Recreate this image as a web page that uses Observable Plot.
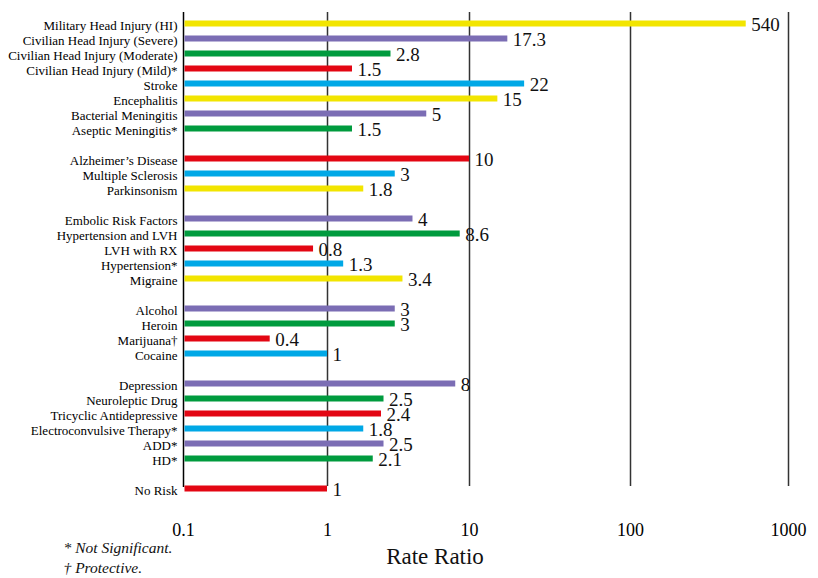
<!DOCTYPE html>
<html>
<head>
<meta charset="utf-8">
<script src="https://cdn.jsdelivr.net/npm/d3@7"></script>
<script src="https://cdn.jsdelivr.net/npm/@observablehq/plot@0.6"></script>
<style>
  html, body { margin: 0; padding: 0; background: #fff; }
  #chart { width: 818px; height: 578px; }
</style>
</head>
<body>
<div id="chart"></div>
<script>
// Risk factors, listed top to bottom
const categories = [
  "Military Head Injury (HI)",
  "Civilian Head Injury (Severe)",
  "Civilian Head Injury (Moderate)",
  "Civilian Head Injury (Mild)*",
  "Stroke",
  "Encephalitis",
  "Bacterial Meningitis",
  "Aseptic Meningitis*",
  "Alzheimer\u2019s Disease",
  "Multiple Sclerosis",
  "Parkinsonism",
  "Embolic Risk Factors",
  "Hypertension and LVH",
  "LVH with RX",
  "Hypertension*",
  "Migraine",
  "Alcohol",
  "Heroin",
  "Marijuana\u2020",
  "Cocaine",
  "Depression",
  "Neuroleptic Drug",
  "Tricyclic Antidepressive",
  "Electroconvulsive Therapy*",
  "ADD*",
  "HD*",
  "No Risk"
];

// Rate ratios
const values = [540, 17.3, 2.8, 1.5, 22, 15, 5, 1.5,
                10, 3, 1.8,
                4, 8.6, 0.8, 1.3, 3.4,
                3, 3, 0.4, 1,
                8, 2.5, 2.4, 1.8, 2.5, 2.1,
                1];

const valueLabels = ["540", "17.3", "2.8", "1.5", "22", "15", "5", "1.5",
                     "10", "3", "1.8",
                     "4", "8.6", "0.8", "1.3", "3.4",
                     "3", "3", "0.4", "1",
                     "8", "2.5", "2.4", "1.8", "2.5", "2.1",
                     "1"];

const YELLOW = "#f2e500", PURPLE = "#7b6db4", GREEN = "#009b3e", RED = "#e30613", BLUE = "#00a8e6";
const barColors = [YELLOW, PURPLE, GREEN, RED, BLUE, YELLOW, PURPLE, GREEN,
                   RED, BLUE, YELLOW,
                   PURPLE, GREEN, RED, BLUE, YELLOW,
                   PURPLE, GREEN, RED, BLUE,
                   PURPLE, GREEN, RED, BLUE, PURPLE, GREEN,
                   RED];

// Number of rows in each group; an empty row separates groups
const groupSizes = [8, 3, 5, 4, 6, 1];

// Axis ticks (decades)
const ticks = [0.1, 1, 10, 100, 1000];
const tickLabels = ["0.1", "1", "10", "100", "1000"];

// Build the row order with spacer rows between groups
const yDomain = [];
let k = 0;
groupSizes.forEach((n, g) => {
  for (let i = 0; i < n; i++) yDomain.push(categories[k++]);
  if (g < groupSizes.length - 1) yDomain.push("__gap" + g);
});

const rows = categories.map((name, i) => ({
  name, value: values[i], label: valueLabels[i], color: barColors[i]
}));

const serif = "Liberation Serif, DejaVu Serif, Noto Serif, serif";

const chart = Plot.plot({
  width: 818,
  height: 578,
  marginLeft: 183,
  marginRight: 30,
  marginTop: 14.5,
  marginBottom: 81.5,
  style: { background: "#fff", color: "#000", fontFamily: serif },
  // log axis with one segment per decade
  x: { type: "log", domain: ticks, range: [183, 327, 469, 630, 788] },
  y: { type: "band", domain: yDomain, padding: 0 },
  color: { type: "identity" },
  marks: [
    // vertical grid lines at each decade
    Plot.ruleX(ticks.slice(1), { stroke: "#333", strokeWidth: 1.5, insetTop: -2.5, insetBottom: 10.5 }),
    // baseline at 0.1
    Plot.ruleX([0.1], { stroke: "#000", strokeWidth: 1.5, insetTop: -2.5, insetBottom: 9.5 }),
    Plot.barX(rows, {
      x1: 0.1, x2: "value", y: "name", fill: "color",
      insetTop: 4.5, insetBottom: 4.5, insetLeft: 1.5
    }),
    Plot.text(rows, {
      x: "value", y: "name", text: "label", fontFamily: serif,
      dx: 5, dy: 1, textAnchor: "start", fontSize: 19, fill: "#111"
    }),
    Plot.axisY({
      tickSize: 0, tickPadding: 6, fontSize: 13, dy: 2, label: null, fontFamily: serif,
      tickFormat: d => d.startsWith("__gap") ? "" : d
    }),
    Plot.axisX({
      ticks, tickSize: 0, tickPadding: 26, fontSize: 18, label: null, fontFamily: serif,
      tickFormat: d => tickLabels[ticks.indexOf(d)]
    }),
    Plot.text(["Rate Ratio"], {
      text: d => d, frameAnchor: "bottom", dx: -51, dy: 67, fontSize: 23, fill: "#111", fontFamily: serif
    }),
    Plot.text(["* Not Significant."], {
      text: d => d, frameAnchor: "bottom-left", textAnchor: "start", fontFamily: serif,
      dx: -120, dy: 56, fontSize: 15.5, fontStyle: "italic", fill: "#111"
    }),
    Plot.text(["\u2020 Protective."], {
      text: d => d, frameAnchor: "bottom-left", textAnchor: "start", fontFamily: serif,
      dx: -120, dy: 76, fontSize: 15.5, fontStyle: "italic", fill: "#111"
    })
  ]
});

document.getElementById("chart").appendChild(chart);
</script>
</body>
</html>
